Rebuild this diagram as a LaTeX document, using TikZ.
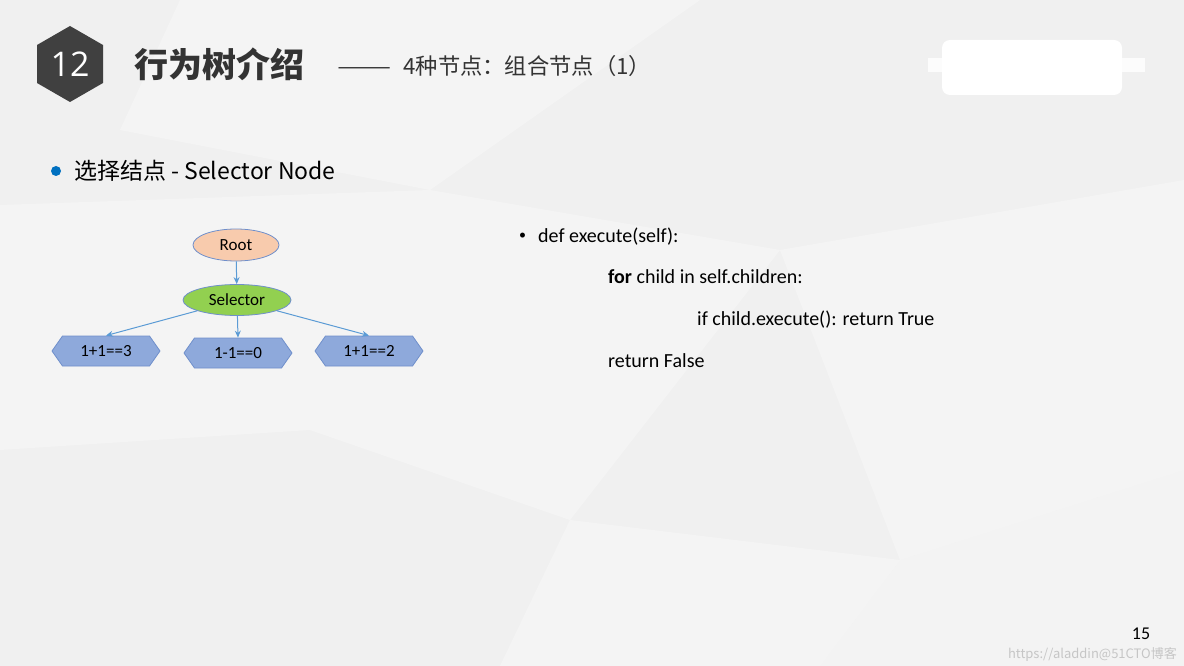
\documentclass[tikz,border=0pt]{standalone}
\usepackage{fontspec}
\setmainfont{Carlito}
\newfontfamily\cjk{Noto Sans CJK SC}
\newfontfamily\numfont{Open Sans}
\usepackage{tikz}
\usetikzlibrary{arrows.meta,positioning,shapes.geometric,shapes.symbols}
\definecolor{bg}{HTML}{F0F0F0}
\definecolor{hexdark}{HTML}{404040}
\definecolor{ink}{HTML}{333333}
\definecolor{peach}{HTML}{F8CBAD}
\definecolor{leafgreen}{HTML}{92D050}
\definecolor{leafblue}{HTML}{8EA9DB}
\definecolor{outline}{HTML}{6F8FCB}
\definecolor{linkblue}{HTML}{5B9BD5}
\definecolor{dotblue}{HTML}{0070C0}
\tikzset{link/.style={-{Stealth[length=7pt,width=6pt]},draw=linkblue,line width=1pt},rootnode/.style={ellipse,fill=peach,draw=outline,line width=.8pt,minimum width=86,minimum height=32,inner sep=0pt,font=\fontsize{17}{17}\selectfont},selnode/.style={ellipse,fill=leafgreen,draw=outline,line width=.8pt,minimum width=108,minimum height=31,inner sep=0pt,font=\fontsize{17}{17}\selectfont},leafnode/.style={signal,signal to=west and east,signal pointer angle=110,fill=leafblue,draw=outline,line width=.8pt,minimum width=108,minimum height=30,inner sep=0pt,font=\fontsize{17}{17}\selectfont},codetxt/.style={anchor=base west,inner sep=0pt,text=black,font=\fontsize{20}{20}\selectfont},facet/.style={fill=white,opacity=.3}}
\begin{document}
\begin{tikzpicture}[x=1pt,y=-1pt]
\fill[bg] (0,0) rectangle (1184,666);
\useasboundingbox (0,0) rectangle (1184,666);
% background facets
\fill[facet] (0,205) -- (430,190) -- (310,430) -- (0,450) -- cycle;
\fill[facet] (430,190) -- (780,250) -- (570,520) -- (310,430) -- cycle;
\fill[facet] (780,250) -- (1184,180) -- (1184,470) -- (900,560) -- cycle;
\fill[facet] (570,520) -- (900,560) -- (820,666) -- (500,666) -- cycle;
\fill[facet] (180,0) -- (700,0) -- (430,190) -- (120,130) -- cycle;
\fill[white,opacity=.2] (1184,470) -- (1184,666) -- (820,666) -- (900,560) -- cycle;
% logo patch
\fill[white,rounded corners=8pt] (942,40) rectangle (1122,95);
\fill[white,opacity=.8] (928,58) rectangle (1145,72);
% title
\fill[hexdark] (70,26) -- (103,45) -- (103,83) -- (70,102) -- (37,83) -- (37,45) -- cycle;
\node[text=white,inner sep=0pt,font=\numfont\fontsize{34}{34}\selectfont] (num) at (70,64) {12};
\node[anchor=west,inner sep=0pt,text=ink,font=\cjk\bfseries\fontsize{34}{40}\selectfont] (title) at (134,64) {行为树介绍};
\node[anchor=west,inner sep=0pt,text=ink,font=\cjk\fontsize{22.3}{26}\selectfont] (sub) at (337,66) {\scalebox{1.45}[1]{——}\hspace{12pt}4种节点：组合节点（1）};
% heading
\node[circle,fill=dotblue,minimum size=10pt,inner sep=0pt] (dot) at (56,171) {};
\node[anchor=west,inner sep=0pt,text=black,font=\cjk\fontsize{23}{25}\selectfont] (head) at (74,171) {选择结点 - Selector Node};
% tree
\node[rootnode] (root) at (236,245) {Root};
\node[selnode] (sel) at (237,300) {Selector};
\node[leafnode] (l1) at (106,351) {1+1==3};
\node[leafnode] (l2) at (238,353) {1-1==0};
\node[leafnode] (l3) at (369,351) {1+1==2};
\draw[link] (root)--(sel);\draw[link] (sel)--(l1.north);\draw[link] (sel)--(l2.north);\draw[link] (sel)--(l3.north);
% code
\node[anchor=base west,inner sep=0pt,font=\fontsize{14}{14}\selectfont] (bul) at (519,240) {•};
\node[codetxt] (c1) at (538,242) {def execute(self):};
\node[codetxt] (c2) at (608,283) {\textbf{for} child in self.children:};
\node[codetxt] (c3) at (697,325) {if child.execute(): return True};
\node[codetxt] (c4) at (608,367) {return False};
% footer
\node[inner sep=0pt,text=black,font=\fontsize{18}{18}\selectfont] (pg) at (1141,634) {15};
\node[anchor=east,inner sep=0pt,text=gray!45,font=\cjk\fontsize{13}{13}\selectfont] (wm) at (1177,654) {https://aladdin@51CTO博客};
\end{tikzpicture}
\end{document}
